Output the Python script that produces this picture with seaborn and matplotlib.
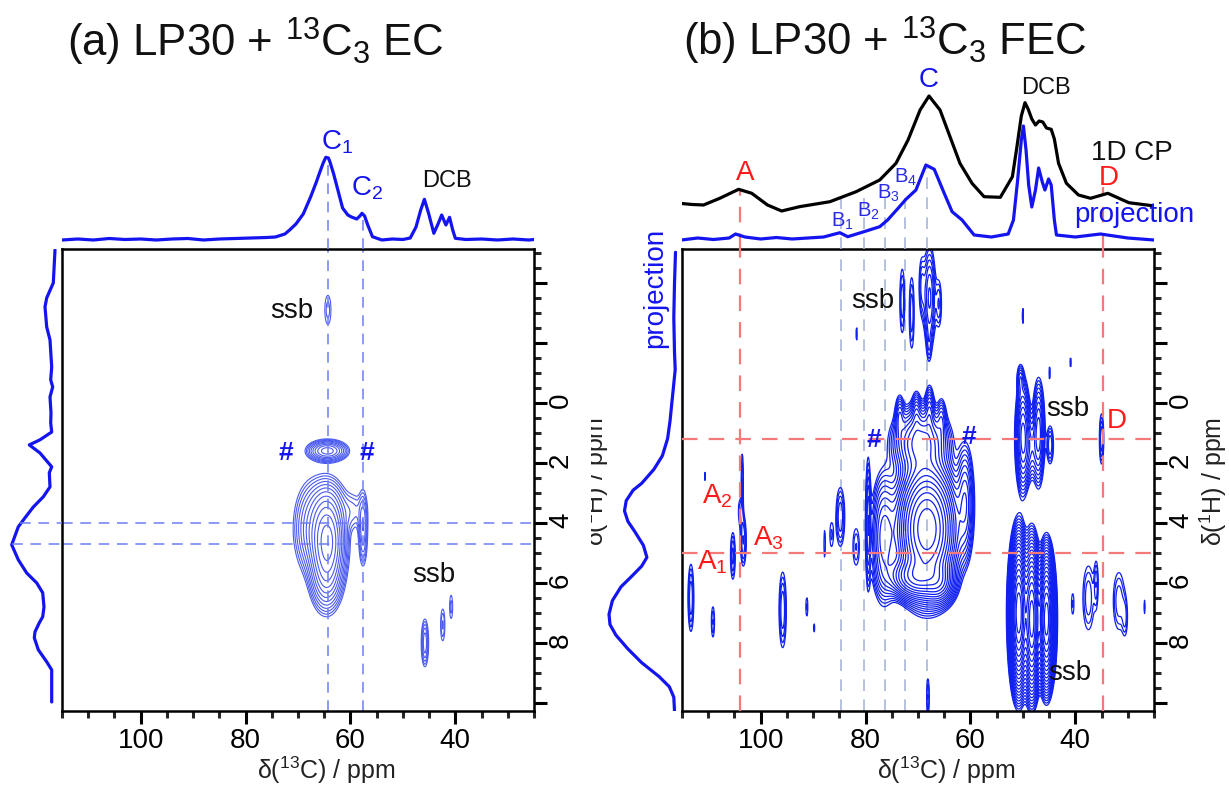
import numpy as np
import matplotlib
matplotlib.use("Agg")
import matplotlib.pyplot as plt
import matplotlib.transforms as mtransforms
from matplotlib.ticker import MultipleLocator, FuncFormatter
import seaborn as sns

# ---------------- data ----------------
# (a) 13C projection on top
a_top_ppm = [115, 112, 109, 106, 103, 100, 97, 94, 91, 88, 85, 82, 79, 76, 74.3, 72.5, 71.6,
             70.4, 69.0, 67.6, 66.5, 65.9, 65.2, 64.7, 64.2, 63.9, 63.2, 62.5, 61.5, 60.5, 59.8,
             58.8, 58.2, 57.8, 57.3, 56.7, 55.8, 54.0, 52, 50, 48.6, 47.5, 46.6, 45.9, 45.1,
             44.1, 43.3, 42.6, 41.8, 41.1, 40.5, 40.0, 38, 35, 32, 29, 26, 25]
a_top_int = [0, 1, 0, 1.5, 0.5, 1, 0, 1, 1.5, 0, 1, 1.5, 2, 2.5, 3, 6, 10,
             16, 26, 43, 58, 67, 77, 82.7, 82, 78, 66, 52, 32, 25, 23,
             21, 24, 26.7, 24, 15, 3.3, 0, 1, 0.5, 2, 13, 30, 40.7, 26.7,
             6.7, 16, 25, 15, 22.7, 10, 1.7, 0.5, 1, 0, 1, 0, 0.5]

# (a) 1H projection on the left
a_left_ppm = [-5.1, -4.0, -3.5, -3.2, -2.53, -2.1, -1.2, -0.77, -0.53, -0.2, 0.33, 0.67, 0.97,
              1.23, 1.4, 1.67, 2.13, 2.33, 2.8, 3.13, 3.47, 3.83, 4.13, 4.73, 5.23, 5.67, 6.0,
              6.33, 6.8, 7.13, 7.33, 7.63, 7.83, 8.23, 8.63, 8.9, 9.33, 9.97]
a_left_int = [-3, -1.3, 5.3, 7, 5.3, 2, 0.3, 1.3, -0.7, 2, 1, 1.3, 0.3,
              12, 22.7, 12, 0.3, 2.7, 2, 8.7, 18.7, 27, 33.7, 40.3, 33.7, 25.3, 15.3,
              9.3, 8, 9.3, 12.7, 17, 17.7, 13.7, 5.3, 0.3, 0.3, 0.3]

# (a) 2D cross peaks: 13C centre, 1H centre, widths, height
a_pk_c13 = [64.4, 64.6, 67.5, 64.5, 57.6, 59.5, 64.4, 64.3, 45.8, 42.4, 40.8]
a_pk_h1 = [4.6, 5.8, 4.2, 3.4, 4.2, 3.6, 1.6, -3.1, 8.0, 7.4, 6.8]
a_pk_wc = [1.6, 1.5, 1.8, 2.0, 0.5, 1.5, 1.8, 0.6, 0.4, 0.35, 0.3]
a_pk_wh = [0.75, 0.6, 0.8, 0.5, 0.7, 0.4, 0.17, 0.5, 0.45, 0.45, 0.4]
a_pk_amp = [100, 25, 15, 10, 12, 5, 40, 4, 12, 5, 4]

# (b) 1D CP (black) and 13C projection (blue)
b_cp_ppm = [115.5, 113.0, 110.9, 107.8, 104.2, 101.7, 98.7, 96.0, 92.6, 86.8, 81.8, 77.3,
            74.2, 71.9, 69.6, 67.9, 65.8, 62.0, 59.7, 57.4, 54.3, 52.0, 51.2, 50.3, 49.6,
            49.0, 48.3, 47.6, 46.9, 46.2, 45.5, 44.6, 44.0, 43.2, 41.7, 39.4, 37.1, 33.8,
            29.8, 24.9]
b_cp_int = [7.7, 6.5, 6, 12.7, 21.7, 17.7, 6, 0, 4.3, 9.3, 19.3, 31,
            47.7, 71, 101, 115, 101, 47.7, 27.7, 14.3, 13.7, 34.3, 62, 95, 108.3,
            102, 92, 86, 90, 89, 83, 81.7, 72, 47.7, 27.7, 16, 12.7, 17.7,
            8.3, 5]
b_proj_ppm = [115.1, 112, 109, 106, 104.8, 103, 100, 97, 94, 91, 88, 84.9, 83.4, 80.3, 77.3,
              75.8, 73.8, 72.3, 70.4, 68.5, 66.9, 65.0, 63.5, 61.6, 59.3, 56, 52.8, 51.8,
              51.0, 50.3, 49.9, 49.4, 48.9, 48.3, 47.6, 47.0, 46.3, 45.8, 45.1, 44.6, 44.0,
              43.6, 40, 35.2, 30, 25]
b_proj_int = [0, 2, 0.5, 2, 6, 3, 1, 2.5, 1, 2, 3, 7.3, 3.3, 8.3, 13.3,
              20, 31.7, 40.7, 50, 75, 70.7, 46.7, 28.3, 20, 5, 3, 6, 20,
              60, 100, 114, 90, 55, 33, 50, 72, 58, 50, 61, 55, 20,
              5, 3, 6, 2, 0]

# (b) 1H projection on the left
b_left_ppm = [-5.02, -3.99, -2.84, -1.69, -1.11, -0.31, 0.61, 1.19, 1.76, 2.22, 2.68, 2.91,
              3.26, 3.6, 3.95, 4.29, 4.75, 5.15, 5.44, 5.79, 6.13, 6.59, 7.05, 7.39, 7.74,
              8.2, 8.66, 9.12, 9.46, 9.81, 10.27]
b_left_int = [1.5, 2.5, 3.2, 2.5, 1.8, 4.2, 7, 9.4, 14.6, 23.2, 35.3, 43.9,
              50.8, 52.5, 49.1, 42.2, 33.6, 30.1, 35.3, 45.6, 56, 64.6, 68, 67, 61.1,
              49.1, 35.3, 18, 7.7, 3.2, 2.5]

# (b) 2D cross peaks: C region, B shoulders, top ssb, small spots, DCB, A, others
b_pk_c13 = [68.3, 70.5, 66.0, 69.5, 73.5, 70.3, 67.8, 65.5, 76.5, 61.0, 79.5, 81.8,
            84.8, 86.5, 87.8,
            73.0, 71.2, 67.8, 69.3, 66.0, 67.9,
            81.7, 50.0, 40.9, 44.9,
            50.0, 47.0, 48.5, 44.8, 50.5,
            50.8, 48.3, 45.5,
            103.5, 103.3, 105.3, 104.0, 110.6,
            113.3, 109.1, 95.8, 91.2, 89.8,
            40.5, 37.5, 36.0, 31.7, 30.5, 26.8, 35.0, 68.1]
b_pk_h1 = [4.2, 5.8, 6.0, 1.3, 0.4, 0.3, 0.2, 0.5, 4.5, 3.3, 4.0, 4.8,
           3.8, 4.4, 4.7,
           -3.4, -3.0, -3.5, -3.9, -3.3, -1.9,
           -2.3, -2.9, -1.35, -1.0,
           1.15, 1.0, 1.5, 1.4, -0.8,
           7.0, 7.2, 7.2,
           2.6, 4.6, 5.1, 3.6, 2.45,
           6.5, 7.3, 6.9, 6.8, 7.5,
           6.7, 6.5, 6.0, 6.6, 7.2, 6.8, 1.2, 9.8]
b_pk_wc = [2.6, 2.5, 1.5, 2.7, 0.5, 0.5, 0.5, 0.5, 1.3, 0.9, 0.3, 0.6,
           0.6, 0.4, 0.25,
           0.4, 0.4, 0.7, 0.4, 0.4, 0.3,
           0.2, 0.2, 0.2, 0.2,
           0.7, 0.6, 0.8, 0.45, 0.4,
           0.75, 0.7, 0.7,
           0.2, 0.4, 0.35, 0.3, 0.15,
           0.4, 0.3, 0.5, 0.25, 0.2,
           0.3, 0.9, 0.3, 0.9, 0.4, 0.2, 0.3, 0.25]
b_pk_wh = [1.0, 0.35, 0.35, 0.6, 0.4, 0.4, 0.45, 0.4, 1.1, 1.0, 1.3, 0.6,
           0.7, 0.5, 0.8,
           0.9, 1.0, 1.0, 0.7, 0.6, 0.4,
           0.4, 0.45, 0.3, 0.4,
           0.9, 0.9, 0.6, 0.45, 0.3,
           1.05, 1.05, 0.95,
           0.9, 0.6, 0.6, 0.4, 0.25,
           0.8, 0.5, 0.9, 0.4, 0.25,
           0.45, 0.9, 0.6, 0.8, 0.5, 0.4, 0.6, 0.6]
b_pk_amp = [250, 80, 40, 40, 10, 10, 12, 8, 25, 20, 12, 5,
            8, 4, 3.5,
            6, 6, 14, 6, 6, 3.5,
            3.5, 3.5, 3.5, 3.5,
            40, 25, 10, 8, 8,
            400, 300, 300,
            5, 8, 7, 4, 3.5,
            8, 5, 8, 4, 3.5,
            4, 6, 5, 6, 4, 3.5, 8, 5]

# marker lines
a_vlines = [64.3, 57.6]
a_hlines = [4.0, 4.7]
b_red_v = [103.9, 34.7]
b_red_h = [1.2, 5.0]
b_grey_v = [84.6, 80.3, 76.2, 72.4, 68.2]

# ---------------- style ----------------
sns.set_theme(style="white")
plt.rcParams["font.family"] = ["Liberation Sans", "DejaVu Sans"]
plt.rcParams["mathtext.fontset"] = "custom"
plt.rcParams["mathtext.rm"] = "Liberation Sans"
plt.rcParams["mathtext.it"] = "Liberation Sans:italic"
plt.rcParams["mathtext.bf"] = "Liberation Sans:bold"
plt.rcParams["mathtext.default"] = "regular"

W, H = 1229, 785
BLUE = "#1414f0"
RED = "#ff1a1a"
XLIM = (115, 25)
YLIM = (10.27, -5.13)

fig = plt.figure(figsize=(W / 100, H / 100), dpi=100)


def box(x0, y0, x1, y1):
    # pixel box (top-left origin) -> figure fraction rect
    return [x0 / W, 1 - y1 / H, (x1 - x0) / W, (y1 - y0) / H]


def surface(c13, h1, wc, wh, amp):
    cc = np.linspace(XLIM[0], XLIM[1], 700)
    hh = np.linspace(-5.3, 10.4, 600)
    C, Hm = np.meshgrid(cc, hh)
    Z = np.zeros_like(C)
    for c0, h0, sc, sh, a in zip(c13, h1, wc, wh, amp):
        Z += a * np.exp(-0.5 * ((C - c0) / sc) ** 2 - 0.5 * ((Hm - h0) / sh) ** 2)
    return C, Hm, Z


def style_main(ax):
    ax.set_xlim(*XLIM)
    ax.set_ylim(*YLIM)
    for s in ax.spines.values():
        s.set_visible(True)
        s.set_linewidth(1.8)
        s.set_color("black")
    ax.xaxis.set_major_locator(MultipleLocator(20))
    ax.xaxis.set_minor_locator(MultipleLocator(5))
    ax.yaxis.set_major_locator(MultipleLocator(2))
    ax.yaxis.set_minor_locator(MultipleLocator(0.5))
    ax.yaxis.set_major_formatter(FuncFormatter(lambda v, p: f"{v:.0f}" if -0.1 < v < 8.1 else ""))
    ax.tick_params(axis="x", which="both", bottom=True, top=False, direction="out", width=2.2)
    ax.tick_params(axis="y", which="both", left=False, right=True, labelleft=False,
                   labelright=True, direction="out", width=2.2)
    ax.tick_params(which="major", length=9, labelsize=20, pad=3, colors="black")
    ax.tick_params(which="minor", length=5)
    ax.tick_params(axis="y", labelrotation=90, pad=1)
    ax.set_xlabel(r"δ($^{13}$C) / ppm", fontsize=18, color="#222222")
    ax.xaxis.label.set_va("center")
    ax.xaxis.set_label_coords(0.56, -0.128)
    ax.set_ylabel(r"δ($^1$H) / ppm", fontsize=18, color="#222222")
    ax.yaxis.set_label_position("right")
    ax.yaxis.label.set_va("center")
    ax.yaxis.label.set_ha("center")
    ax.grid(False)


def proj_line(ax, x, y, color):
    sns.lineplot(x=x, y=y, ax=ax, color=color, lw=2.3, sort=False, estimator=None)


# ================= panel (a) =================
ax_a = fig.add_axes(box(62, 249, 534, 711))
Ca, Ha, Za = surface(a_pk_c13, a_pk_h1, a_pk_wc, a_pk_wh, a_pk_amp)
ax_a.contour(Ca, Ha, Za, levels=2.5 * 1.38 ** np.arange(0, 14), colors="#4a5af0", linewidths=0.8)
for v in a_vlines:
    ax_a.axvline(v, color="#6e7ef5", lw=1.1, dashes=(7, 5))
for h in a_hlines:
    ax_a.axhline(h, color="#6e7ef5", lw=1.1, dashes=(7, 5))
style_main(ax_a)
# the right-hand 1H label of (a) is half hidden behind panel (b) in the original
ax_a.yaxis.set_label_coords(1.129, 0.496)
ax_a.yaxis.label.set_clip_on(True)
ax_a.yaxis.label.set_clip_box(mtransforms.TransformedBbox(
    mtransforms.Bbox([[591 / W, 0], [1, 1]]), fig.transFigure))

for txt, x, y in [("ssb", 71.1, -3.07), ("ssb", 44.1, 5.73)]:
    ax_a.text(x, y, txt, fontsize=20, ha="center", va="center", color="#111111")
for x in [72.4, 56.8]:
    ax_a.text(x, 1.67, "#", fontsize=19, ha="center", va="center", color=BLUE, fontweight="bold")

ax_at = fig.add_axes(box(62, 125, 534, 249))
proj_line(ax_at, a_top_ppm, a_top_int, BLUE)
ax_at.set_xlim(*XLIM)
ax_at.set_ylim(-9, 115)
ax_at.vlines(a_vlines, -9, [78, 20], color="#6e7ef5", lw=1.1, linestyles=(0, (7, 5)))
ax_at.text(65.7, 91, r"C$_1$", fontsize=20, color=BLUE, ha="left", va="baseline")
ax_at.text(59.9, 45, r"C$_2$", fontsize=20, color=BLUE, ha="left", va="baseline")
ax_at.text(41.6, 59, "DCB", fontsize=17, color="#111111", ha="center", va="center")
ax_at.axis("off")

ax_al = fig.add_axes(box(0, 249, 62, 711))
proj_line(ax_al, a_left_int, a_left_ppm, BLUE)
ax_al.set_ylim(*YLIM)
ax_al.set_xlim(52, -10)
ax_al.hlines(a_hlines, [32, 40], -10, color="#6e7ef5", lw=1.1, linestyles=(0, (7, 5)))
ax_al.axis("off")

# ================= panel (b) =================
ax_b = fig.add_axes(box(682, 249, 1154, 711))
for v in b_grey_v:
    ax_b.axvline(v, color="#a9b6d8", lw=1.2, dashes=(7, 5), zorder=1)
Cb, Hb, Zb = surface(b_pk_c13, b_pk_h1, b_pk_wc, b_pk_wh, b_pk_amp)
ax_b.contour(Cb, Hb, Zb, levels=3 * 1.28 ** np.arange(0, 22), colors="#1020f0", linewidths=0.9,
             zorder=2)
for v in b_red_v:
    ax_b.axvline(v, color="#f47a7a", lw=1.6, dashes=(7, 5), zorder=3)
for h in b_red_h:
    ax_b.axhline(h, color="#f47a7a", lw=1.6, dashes=(7, 5), zorder=3)
style_main(ax_b)
ax_b.yaxis.set_label_coords(1.125, 0.496)

for txt, x, y in [("ssb", 78.6, -3.38), ("ssb", 41.5, 0.2), ("ssb", 41.1, 9.02)]:
    ax_b.text(x, y, txt, fontsize=20, ha="center", va="center", color="#111111")
for x, y in [(78.4, 1.23), (60.3, 1.13)]:
    ax_b.text(x, y, "#", fontsize=19, ha="center", va="center", color=BLUE, fontweight="bold")
ax_b.text(32.1, 0.6, "D", fontsize=20, ha="center", va="center", color=RED)
for txt, x, y in [(r"A$_2$", 111.2, 3.37), (r"A$_3$", 101.5, 4.75), (r"A$_1$", 112.1, 5.57)]:
    ax_b.text(x, y, txt, fontsize=20, ha="left", va="baseline", color=RED)

ax_bt = fig.add_axes(box(682, 75, 1154, 249))
ax_bt.vlines(b_grey_v, -9, [42, 42, 42, 42, 72], color="#a9b6d8", lw=1.2,
             linestyles=(0, (7, 5)))
ax_bt.vlines(b_red_v, -9, [50, 53], color="#f47a7a", lw=1.6, linestyles=(0, (7, 5)))
proj_line(ax_bt, b_proj_ppm, b_proj_int, BLUE)
proj_line(ax_bt, b_cp_ppm, [v + 29 for v in b_cp_int], "black")
ax_bt.set_xlim(*XLIM)
ax_bt.set_ylim(-9, 165)
ax_bt.text(67.9, 160, "C", fontsize=20, color=BLUE, ha="center", va="center")
ax_bt.text(45.7, 152, "DCB", fontsize=17, color="#111111", ha="center", va="center")
ax_bt.text(29.3, 87, "1D CP", fontsize=20, color="#111111", ha="center", va="center")
ax_bt.text(28.7, 25, "projection", fontsize=20, color=BLUE, ha="center", va="center")
ax_bt.text(103.0, 67, "A", fontsize=20, color=RED, ha="center", va="center")
ax_bt.text(33.6, 62, "D", fontsize=20, color=RED, ha="center", va="center")
for txt, x, y in [(r"B$_1$", 86.6, 13.3), (r"B$_2$", 81.7, 23.3), (r"B$_3$", 77.8, 41),
                  (r"B$_4$", 74.5, 57)]:
    ax_bt.text(x, y, txt, fontsize=14.5, color="#2a2ae8", ha="left", va="baseline")
ax_bt.axis("off")

ax_bl = fig.add_axes(box(595, 249, 682, 711))
proj_line(ax_bl, b_left_int, b_left_ppm, BLUE)
ax_bl.set_ylim(*YLIM)
ax_bl.set_xlim(82, -5)
ax_bl.axis("off")
fig.text(655 / W, 1 - 288 / H, "projection", rotation=90, fontsize=20, color=BLUE,
         ha="center", va="center")

# titles
fig.text(255 / W, 1 - 42 / H, r"(a) LP30 + $^{13}$C$_3$ EC", fontsize=31.5, ha="center",
         va="center", color="#111111")
fig.text(885 / W, 1 - 41 / H, r"(b) LP30 + $^{13}$C$_3$ FEC", fontsize=31.5, ha="center",
         va="center", color="#111111")

fig.savefig("out.png", dpi=100, facecolor="white")
